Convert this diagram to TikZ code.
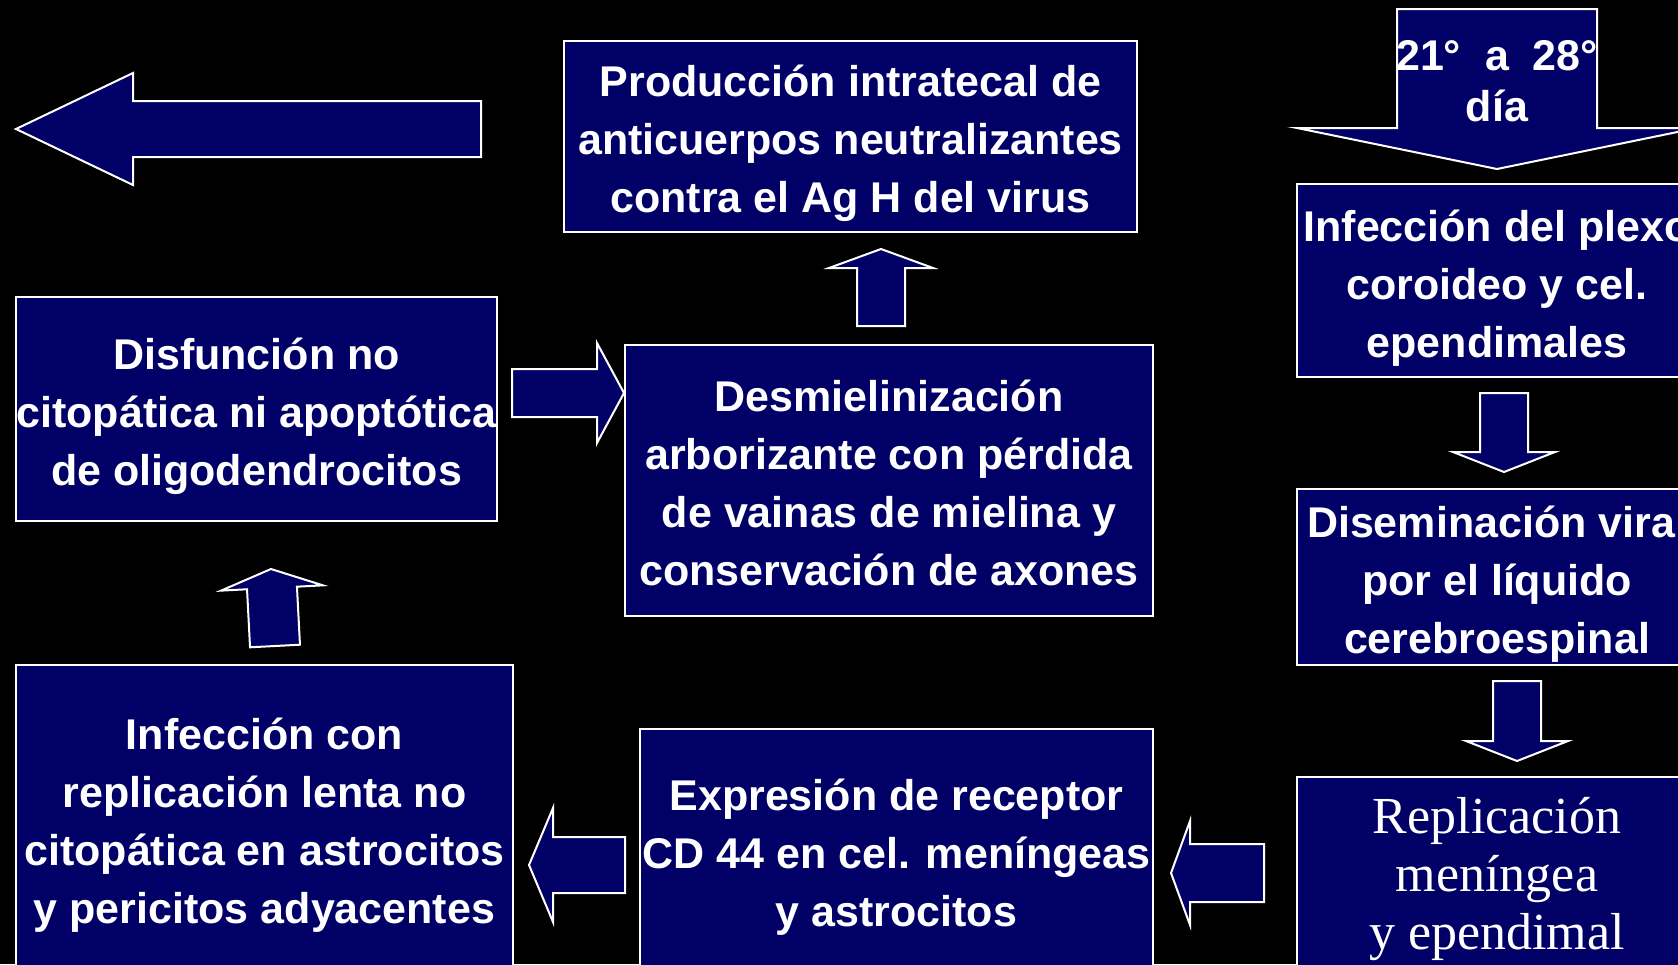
\documentclass[tikz,border=0pt]{standalone}
\usepackage{fontspec}
\setmainfont{Liberation Sans}
\newfontfamily\serifrm{Liberation Serif}
\usetikzlibrary{calc}
\definecolor{navyblue}{RGB}{0,0,102}

\tikzset{
    box/.style={draw=white, fill=navyblue, line width=2pt, text=white, align=center,
        inner sep=0pt, font=\fontsize{43}{58}\selectfont\bfseries},
    fatarr/.style={draw=white, fill=navyblue, line width=2pt, line join=miter},
}
% lowers the text of a box a little
\newcommand{\boxlead}{\rule{0pt}{46pt}}

% block arrow: tail, tip, half shaft, half head, head length
\newcommand{\fatarrow}[5]{%
    \coordinate (hb) at ($(#2)!#5!(#1)$);
    \draw [fatarr] ($(#1)!#3!90:(#2)$) -- ($(hb)!#3!90:(#2)$) -- ($(hb)!#4!90:(#2)$) -- (#2)
        -- ($(hb)!#4!-90:(#2)$) -- ($(hb)!#3!-90:(#2)$) -- ($(#1)!#3!-90:(#2)$) -- cycle;
}

\begin{document}
\begin{tikzpicture}[x=1pt, y=-1pt]
    \fill [black] (0,0) rectangle (1678,964);
    \useasboundingbox (0,0) rectangle (1678,964);
    \clip (0,0) rectangle (1678,964);
    % Boxes
    \node [box, minimum width=573pt, minimum height=191pt] (prod) at (850.5,136.5)
        {\boxlead Producción intratecal de\\anticuerpos neutralizantes\\contra el Ag H del virus};
    \node [box, minimum width=481pt, minimum height=224pt] (disf) at (256.5,409)
        {\boxlead Disfunción no\\citopática ni apoptótica\\de oligodendrocitos};
    \node [box, minimum width=528pt, minimum height=271pt, text depth=10pt] (desm) at (889,480.5)
        {\boxlead Desmielinización\\arborizante con pérdida\\de vainas de mielina y\\conservación de axones};
    \node [box, minimum width=497pt, minimum height=306pt] (infc) at (264.5,818)
        {\boxlead Infección con\\replicación lenta no\\citopática en astrocitos\\y pericitos adyacentes};
    \node [box, minimum width=513pt, minimum height=242pt] (expr) at (896.5,850)
        {\boxlead Expresión de receptor\\CD 44 en cel. meníngeas\\y astrocitos};
    \node [box, minimum width=400pt, minimum height=193pt] (plexo) at (1497,280.5)
        {\boxlead Infección del plexo\\coroideo y cel.\\ependimales};
    \node [box, minimum width=401pt, minimum height=176pt] (dise) at (1497,577)
        {\boxlead Diseminación viral\\por el líquido\\cerebroespinal};
    \node [box, minimum width=401pt, minimum height=192pt, text depth=0pt,
        font=\fontsize{52}{58}\selectfont\serifrm] (repl) at (1497,873)
        {Replicación\\meníngea\\y ependimal};
    % Arrows
    \coordinate (la1) at (481,129);
    \coordinate (la2) at (16,129);
    \fatarrow{la1}{la2}{28pt}{56pt}{117pt}
    \coordinate (day1) at (1497,9);
    \coordinate (day2) at (1497,169);
    \fatarrow{day1}{day2}{100pt}{200pt}{41pt}
    \node [text=white, align=center, font=\fontsize{43}{51}\selectfont\bfseries] (daylabel) at (1497,81)
        {21°~~a~~28°\\día};
    \coordinate (ua1) at (881,326);
    \coordinate (ua2) at (881,249);
    \fatarrow{ua1}{ua2}{24pt}{52pt}{19pt}
    \coordinate (ub1) at (275,646);
    \coordinate (ub2) at (271,569);
    \fatarrow{ub1}{ub2}{25pt}{51pt}{19pt}
    \coordinate (ra1) at (512,393);
    \coordinate (ra2) at (624,393);
    \fatarrow{ra1}{ra2}{24pt}{50pt}{27pt}
    \coordinate (lb1) at (625,865);
    \coordinate (lb2) at (529,865);
    \fatarrow{lb1}{lb2}{28pt}{57pt}{24pt}
    \coordinate (lc1) at (1264,873);
    \coordinate (lc2) at (1171,873);
    \fatarrow{lc1}{lc2}{29pt}{52pt}{19pt}
    \coordinate (da1) at (1504,393);
    \coordinate (da2) at (1504,472);
    \fatarrow{da1}{da2}{24pt}{51pt}{20pt}
    \coordinate (db1) at (1517,681);
    \coordinate (db2) at (1517,761);
    \fatarrow{db1}{db2}{24pt}{51pt}{20pt}
\end{tikzpicture}
\end{document}
